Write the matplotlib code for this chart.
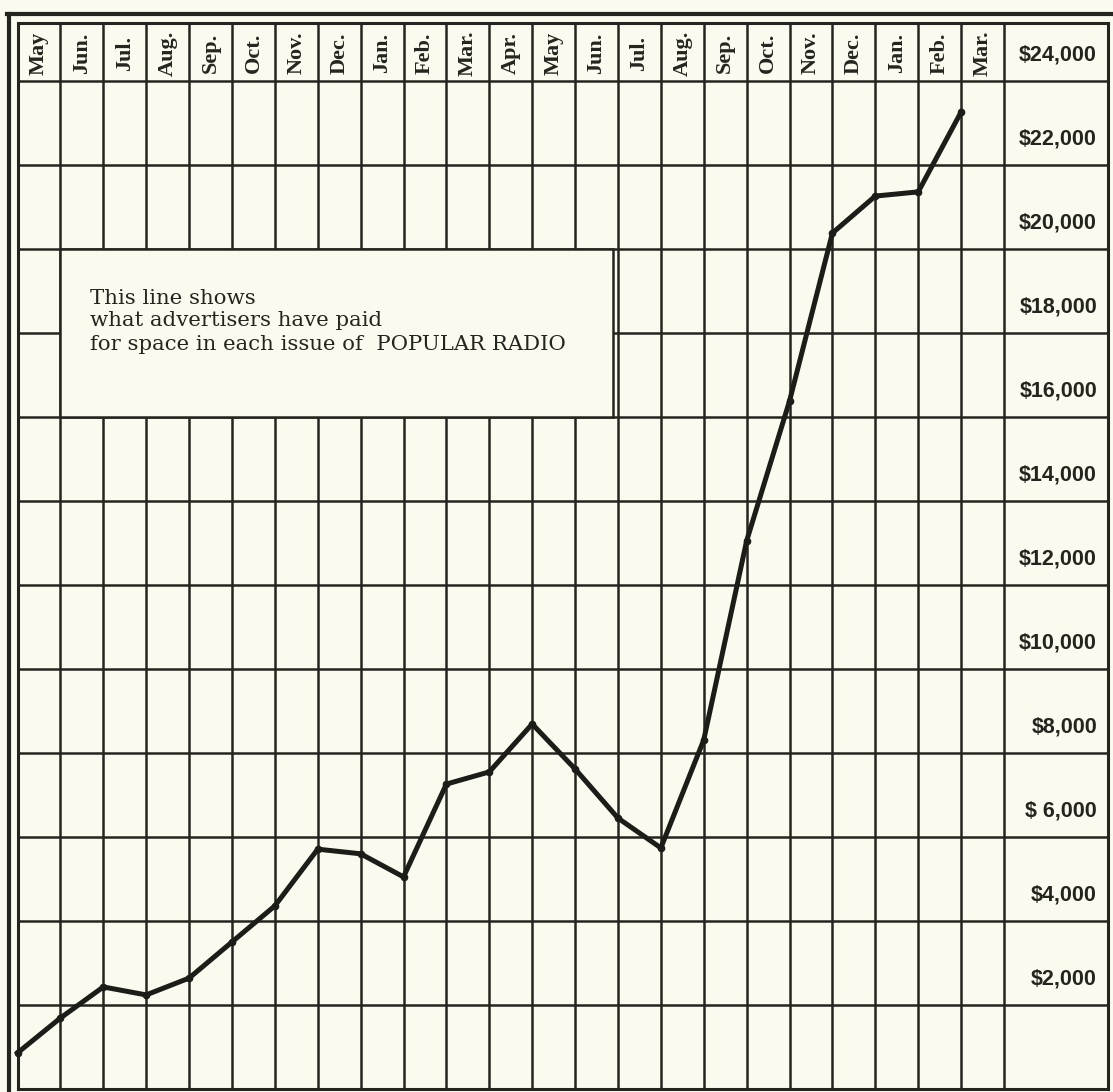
import numpy as np
import matplotlib.pyplot as plt
from matplotlib.lines import Line2D
from matplotlib.patches import Rectangle

months = ["May", "Jun.", "Jul.", "Aug.", "Sep.", "Oct.", "Nov.", "Dec.", "Jan.", "Feb.", "Mar.", "Apr.",
          "May", "Jun.", "Jul.", "Aug.", "Sep.", "Oct.", "Nov.", "Dec.", "Jan.", "Feb.", "Mar."]
revenue = [860, 1690, 2430, 2240, 2640, 3500, 4360, 5710, 5600, 5050, 7260, 7550,
           8690, 7620, 6450, 5740, 8310, 13050, 16380, 20380, 21260, 21360, 23260]
dollar_ticks = [2000, 4000, 6000, 8000, 10000, 12000, 14000, 16000, 18000, 20000, 22000, 24000]
dollar_labels = ["$2,000", "$4,000", "$ 6,000", "$8,000", "$10,000", "$12,000", "$14,000",
                 "$16,000", "$18,000", "$20,000", "$22,000", "$24,000"]
note = ["This line shows", "what advertisers have paid", "for space in each issue of  POPULAR RADIO"]

W, H = 1113, 1092
paper = "#fafaee"
ink = "#25251f"
serif = ["Liberation Serif", "DejaVu Serif"]

fig = plt.figure(figsize=(W / 100, H / 100), dpi=100)
fig.patch.set_facecolor(paper)

# pixel geometry of the grid: one month column and one $2,000 row
col_px, row_px = 42.89, 84.0
x0, y0 = 17.5, 1089.0
right_px, top_px = 1108.0, 23.0

ax = fig.add_axes([x0 / W, (H - y0) / H, (right_px - x0) / W, (y0 - top_px) / H])
xmax = (right_px - x0) / col_px
ymax = (y0 - top_px) / row_px * 2000
ax.set_xlim(0, xmax)
ax.set_ylim(0, ymax)
ax.set_facecolor(paper)
ax.set_xticks([])
ax.set_yticks([])
for s in ax.spines.values():
    s.set_linewidth(2.2)
    s.set_color(ink)

n = len(months)
ax.vlines(np.arange(1, n + 1), 0, ymax, colors=ink, lw=1.8, zorder=1)
ax.hlines(dollar_ticks, 0, xmax, colors=ink, lw=1.8, zorder=1)

# month header
header_mid = (y0 - 53) / row_px * 2000
for i, m in enumerate(months):
    ax.text(i + 0.5, header_mid, m, rotation=90, ha="center", va="center",
            fontsize=16, family=serif, fontweight="bold", color=ink)

# dollar column
lab_x = (1097 - x0) / col_px
for v, lab in zip(dollar_ticks, dollar_labels):
    ax.text(lab_x, v + 620, lab, ha="right", va="center", fontsize=15.5,
            family=["Liberation Sans", "DejaVu Sans"], fontweight="bold", color=ink)

# note box
ax.add_patch(Rectangle((1, 16000), 12.88, 4000, facecolor=paper, edgecolor=ink, lw=1.8, zorder=3))
tx = (90 - x0) / col_px
for k, line in enumerate(note):
    ax.text(tx, (y0 - 298 - 23 * k) / row_px * 2000, line, ha="left", va="center",
            fontsize=15.3, family=["DejaVu Serif"], color=ink, zorder=4)

ax.plot(np.arange(n), revenue, color="#1c1c18", lw=3.6, marker="o", ms=4.5,
        zorder=5, clip_on=False)

# outer frame
fig.add_artist(Line2D([7 / W, 1.0], [1 - 14 / H] * 2, transform=fig.transFigure, lw=3, color=ink))
fig.add_artist(Line2D([8.5 / W] * 2, [0, 1 - 14 / H], transform=fig.transFigure, lw=3, color=ink))

fig.savefig("out.png", dpi=100, facecolor=paper)
